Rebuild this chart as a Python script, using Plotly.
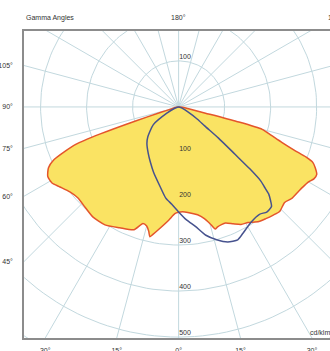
import numpy as np
import plotly.graph_objects as go

# gamma angle in degrees (negative = left half, positive = right half), intensity in cd/klm
red_gamma = [-90, -80, -75, -73, -72, -71, -70, -68.5, -67, -65, -62, -59, -56, -52, -48, -43,
             -38, -32, -26, -20, -17, -15, -13.5, -12.5, -11.5, -9.5, -5, -2, 0,
             2, 5, 10, 13, 15, 16.7, 18, 20, 22, 25, 28, 31, 35, 38, 41, 44, 48, 51, 54, 57,
             60, 62, 64, 66, 67.5, 68.5, 69.5, 71, 73, 75, 76, 77, 80, 85, 90]
red_cd = [0, 8, 15, 40, 100, 180, 238, 268, 295, 312, 322, 321, 311, 300, 295, 298,
          303, 302, 292, 284, 265, 268, 278, 289, 283, 271, 247, 232, 229,
          228, 230, 238, 249, 262, 277, 274, 272, 272, 280, 289, 293, 304, 308, 312, 316, 310, 316, 318, 321,
          326, 333, 334, 325, 316, 298, 268, 238, 210, 188, 130, 60, 20, 8, 0]

blue_gamma = [-90, -80, -70, -62, -55, -46, -41, -33, -27, -21, -13, -8, -4, 0,
              4, 8, 12, 16, 20, 24, 27, 32, 37, 40, 43, 44.5, 46, 47, 48, 49, 50, 52, 54,
              57, 62, 70, 80, 90]
blue_cd = [0, 3, 10, 29, 67, 93, 105, 121, 135, 152, 178, 200, 212, 228,
           246, 262, 285, 300, 312, 316, 308, 296, 292, 298, 296, 285, 272, 255, 240, 205, 160, 110, 70,
           48, 22, 8, 3, 0]

rings = [100, 200, 300, 400, 500, 600]
ring_labels = ['100', '200', '300', '400', '500']
spoke_step = 15
left_angles = [105, 90, 75, 60, 45]
left_text = ['105°', '90°', '75°', '60°', '45°']
bottom_angles = [-30, -15, 0, 15, 30]
bottom_text = ['30°', '15°', '0°', '15°', '30°']

X_MIN, X_MAX = -336, 329
Y_MIN, Y_MAX = -502, 165

GRID = '#c2d8de'
TXT = '#333333'


def to_xy(gamma, r):
    g = np.radians(np.asarray(gamma, dtype=float))
    r = np.asarray(r, dtype=float)
    return r * np.sin(g), -r * np.cos(g)


fig = go.Figure()

# polar grid: rings + spokes
gx, gy = [], []
t = np.arange(0, 361, 2)
for r in rings:
    x, y = to_xy(t, np.full(t.shape, r))
    gx += list(x) + [None]
    gy += list(y) + [None]
for a in range(0, 360, spoke_step):
    x, y = to_xy([a, a], [0, 800])
    gx += list(x) + [None]
    gy += list(y) + [None]
fig.add_trace(go.Scatter(x=gx, y=gy, mode='lines', line=dict(color=GRID, width=1),
                         hoverinfo='skip'))

rx, ry = to_xy(red_gamma, red_cd)
fig.add_trace(go.Scatter(x=rx, y=ry, mode='lines', fill='toself', fillcolor='#fae363',
                         line=dict(color='#e4552b', width=1.5, shape='spline', smoothing=0.6),
                         name='C0-C180'))

bx, by = to_xy(blue_gamma, blue_cd)
fig.add_trace(go.Scatter(x=bx, y=by, mode='lines',
                         line=dict(color='#46528e', width=1.5, shape='spline', smoothing=0.6),
                         name='C90-C270'))

# ring value labels along the vertical axis
lab_y = [100 + 8] + [-int(s) + 8 for s in ring_labels]
fig.add_trace(go.Scatter(x=[14] * len(lab_y), y=lab_y, mode='text',
                         text=['100'] + ring_labels,
                         textfont=dict(size=7, color=TXT, family='Liberation Sans'),
                         hoverinfo='skip'))

# where the gamma spokes hit the frame
left_ticks = [X_MIN / np.tan(np.radians(a)) for a in left_angles]
bottom_ticks = [-Y_MIN * np.tan(np.radians(a)) for a in bottom_angles]

fig.update_layout(
    width=330, height=351,
    margin=dict(l=24, r=0, t=31, b=13, autoexpand=False),
    paper_bgcolor='white', plot_bgcolor='white',
    showlegend=False,
    font=dict(family='Liberation Sans', size=7, color=TXT),
    xaxis=dict(range=[X_MIN, X_MAX], showgrid=False, zeroline=False,
               showline=True, mirror=True, linecolor='#8c8c8c', linewidth=1.5,
               tickmode='array', tickvals=bottom_ticks, ticktext=bottom_text,
               ticks='', ticklabelstandoff=5),
    yaxis=dict(range=[Y_MIN, Y_MAX], showgrid=False, zeroline=False,
               showline=True, mirror=False, linecolor='#8c8c8c', linewidth=1.5,
               tickmode='array', tickvals=left_ticks, ticktext=left_text,
               ticks='', ticklabelstandoff=8),
    annotations=[
        dict(text='Gamma Angles', xref='paper', yref='paper', x=0, y=1, yshift=13,
             xanchor='left', yanchor='middle', showarrow=False),
        dict(text='180°', xref='x', yref='paper', x=0, y=1, yshift=14,
             xanchor='center', yanchor='middle', showarrow=False),
        dict(text='180°', xref='paper', yref='paper', x=1, y=1, xshift=-4, yshift=14,
             xanchor='left', yanchor='middle', showarrow=False),
        dict(text='cd/klm', xref='paper', yref='paper', x=1, y=0, xshift=-22, yshift=6,
             xanchor='left', yanchor='middle', showarrow=False),
    ],
)

# page margin off so the figure sits at the window corner
fig.write_html("out.html", config={'displayModeBar': False},
               post_script="document.body.style.margin='0';document.body.style.overflow='hidden';")
